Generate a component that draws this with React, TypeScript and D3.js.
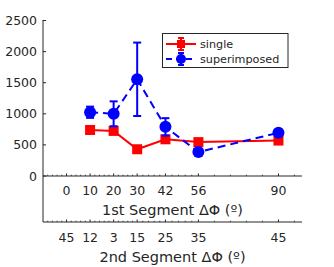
import React from "react";
import * as d3 from "d3";

const xVals = [10, 20, 30, 42, 56, 90];
const singleVals = [740, 725, 430, 590, 545, 570];
const singleErr = [40, 40, 30, 45, 30, 30];
const superVals = [1025, 1000, 1555, 790, 385, 695];
const superErr = [90, 200, 590, 140, 40, 40];
const ticks1 = [0, 10, 20, 30, 42, 56, 90];
const ticks1Labels = ["0", "10", "20", "30", "42", "56", "90"];
const ticks2Labels = ["45", "12", "3", "15", "25", "35", "45"];
const yTicks = [0, 500, 1000, 1500, 2000, 2500];

const W = 334, H = 267;
const FONT = "DejaVu Sans";
const TXT = "#262626";

export default function App() {
  const x = d3.scaleLinear().domain([-10, 100]).range([43, 302]);
  const y = d3.scaleLinear().domain([0, 2500]).range([176, 20.5]);
  const ax1 = 176, ax2 = 222;

  // minor ticks: each major interval split into 5, extended with neighbour spacing
  const minor: number[] = [];
  for (let i = 0; i < ticks1.length - 1; i++) {
    const a = ticks1[i], b = ticks1[i + 1];
    for (let k = 1; k < 5; k++) minor.push(a + ((b - a) * k) / 5);
  }
  const s0 = (ticks1[1] - ticks1[0]) / 5;
  for (let v = ticks1[0] - s0; v > -10; v -= s0) minor.push(v);
  const nT = ticks1.length;
  const sN = (ticks1[nT - 1] - ticks1[nT - 2]) / 5;
  for (let v = ticks1[nT - 1] + sN; v < 100; v += sN) minor.push(v);

  const line = d3.line<number>().x((d, i) => x(xVals[i])).y((d) => y(d));

  const axisLine = (yy: number, key: string) => (
    <g key={key}>
      <line x1={43} x2={302} y1={yy} y2={yy} stroke={TXT} strokeWidth={1} />
      {ticks1.map((t) => (
        <line key={"M" + t} x1={x(t)} x2={x(t)} y1={yy} y2={yy - 2.5} stroke={TXT} strokeWidth={1} />
      ))}
      {minor.map((t, i) => (
        <line key={"m" + i} x1={x(t)} x2={x(t)} y1={yy} y2={yy - 1.3} stroke={TXT} strokeWidth={0.8} />
      ))}
    </g>
  );

  const errBar = (cx: number, v: number, e: number, color: string, key: string) => (
    <g key={key} stroke={color} strokeWidth={2}>
      <line x1={cx} x2={cx} y1={y(v - e)} y2={y(v + e)} />
      <line x1={cx - 4} x2={cx + 4} y1={y(v - e)} y2={y(v - e)} />
      <line x1={cx - 4} x2={cx + 4} y1={y(v + e)} y2={y(v + e)} />
    </g>
  );

  return (
    <svg width={W} height={H} style={{ position: "absolute", left: 0, top: 0 }} fontFamily={FONT}>
      <rect width={W} height={H} fill="#fff" />
      {/* y axis */}
      <line x1={43} x2={43} y1={20} y2={ax2} stroke={TXT} strokeWidth={1} />
      {yTicks.map((t) => (
        <g key={t}>
          <line x1={43} x2={46} y1={y(t)} y2={y(t)} stroke={TXT} />
          <text x={37} y={y(t) + 4.5} textAnchor="end" fontSize={12.5} fill={TXT}>{t}</text>
        </g>
      ))}
      {axisLine(ax1, "a1")}
      {axisLine(ax2, "a2")}
      {ticks1.map((t, i) => (
        <text key={"l1" + i} x={x(t)} y={195} textAnchor="middle" fontSize={12.5} fill={TXT}>{ticks1Labels[i]}</text>
      ))}
      {ticks1.map((t, i) => (
        <text key={"l2" + i} x={x(t)} y={241.5} textAnchor="middle" fontSize={12.5} fill={TXT}>{ticks2Labels[i]}</text>
      ))}
      <text x={172.5} y={215} textAnchor="middle" fontSize={14.5} fill={TXT}>1st Segment ΔΦ (º)</text>
      <text x={172.5} y={262} textAnchor="middle" fontSize={14.5} fill={TXT}>2nd Segment ΔΦ (º)</text>

      {/* single series */}
      <path d={line(singleVals) || ""} fill="none" stroke="#ff0000" strokeWidth={2} />
      {singleVals.map((v, i) => errBar(x(xVals[i]), v, singleErr[i], "#ff0000", "se" + i))}
      {singleVals.map((v, i) => (
        <rect key={"sm" + i} x={x(xVals[i]) - 5} y={y(v) - 5} width={10} height={10} fill="#ff0000" />
      ))}

      {/* superimposed series */}
      <path d={line(superVals) || ""} fill="none" stroke="#0000ff" strokeWidth={2} strokeDasharray="8,5" />
      {superVals.map((v, i) => errBar(x(xVals[i]), v, superErr[i], "#0000ff", "pe" + i))}
      {superVals.map((v, i) => (
        <circle key={"pm" + i} cx={x(xVals[i])} cy={y(v)} r={6} fill="#0000ff" />
      ))}

      {/* legend */}
      <rect x={162.5} y={33.5} width={125.5} height={34} fill="#fff" stroke={TXT} strokeWidth={1} />
      <g>
        <line x1={166} x2={196} y1={44} y2={44} stroke="#ff0000" strokeWidth={2} />
        <line x1={181} x2={181} y1={38} y2={50} stroke="#ff0000" strokeWidth={2} />
        <line x1={178} x2={184} y1={38} y2={38} stroke="#ff0000" strokeWidth={2} />
        <line x1={178} x2={184} y1={50} y2={50} stroke="#ff0000" strokeWidth={2} />
        <rect x={177} y={40} width={8} height={8} fill="#ff0000" />
        <text x={200} y={48} fontSize={11.2} fill={TXT}>single</text>
      </g>
      <g>
        <line x1={166} x2={196} y1={59} y2={59} stroke="#0000ff" strokeWidth={2} strokeDasharray="6,4" />
        <line x1={181} x2={181} y1={53} y2={65} stroke="#0000ff" strokeWidth={2} />
        <line x1={178} x2={184} y1={53} y2={53} stroke="#0000ff" strokeWidth={2} />
        <line x1={178} x2={184} y1={65} y2={65} stroke="#0000ff" strokeWidth={2} />
        <circle cx={181} cy={59} r={5} fill="#0000ff" />
        <text x={200} y={63} fontSize={11.2} fill={TXT}>superimposed</text>
      </g>
    </svg>
  );
}
